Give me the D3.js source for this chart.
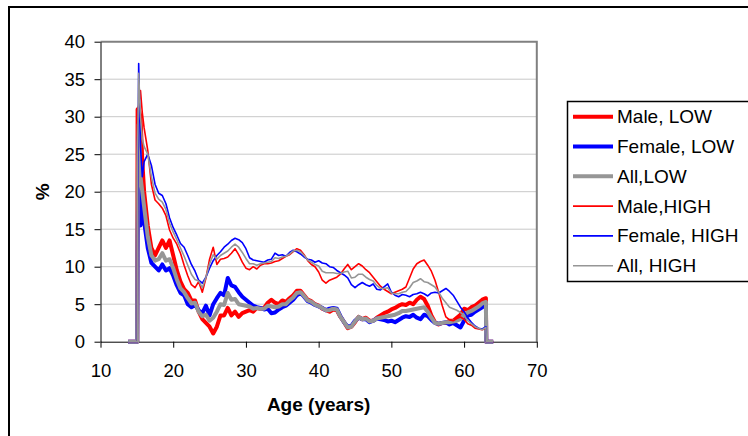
<!DOCTYPE html>
<html>
<head>
<meta charset="utf-8">
<script src="https://cdn.jsdelivr.net/npm/d3@7"></script>
<style>
body{margin:0;background:#fff;}
svg text{font-family:Arial,"Liberation Sans",sans-serif;}
</style>
</head>
<body>
<svg id="graphique" width="748" height="436"></svg>
<script>

// ages (x) : zero before 15 and after 63, then step of half a year
var ages = [13.8, 15.05, 15.1, 15.25, 15.5, 15.75,
	16, 16.5, 17, 17.5, 18, 18.5, 19, 19.5, 20, 20.5,
	21, 21.5, 22, 22.5, 23, 23.5, 24, 24.5, 25, 25.5,
	26, 26.5, 27, 27.5, 28, 28.5, 29, 29.5, 30, 30.5,
	31, 31.5, 32, 32.5, 33, 33.5, 34, 34.5, 35, 35.5,
	36, 36.5, 37, 37.5, 38, 38.5, 39, 39.5, 40, 40.5,
	41, 41.5, 42, 42.5, 43, 43.5, 44, 44.5, 45, 45.5,
	46, 46.5, 47, 47.5, 48, 48.5, 49, 49.5, 50, 50.5,
	51, 51.5, 52, 52.5, 53, 53.5, 54, 54.5, 55, 55.5,
	56, 56.5, 57, 57.5, 58, 58.5, 59, 59.5, 60, 60.5,
	61, 61.5, 62, 62.5, 63, 63.05, 64];

var maleLow = [0, 0, 31, 31, 30, 24,
	20, 15.5, 12.5, 11.5, 12.5, 13.5, 12.5, 13.5, 11.5, 9.5,
	8, 7, 6.5, 5.5, 5.5, 4, 3, 2.5, 2, 1.1,
	2, 3.5, 3.5, 4.5, 3.5, 4, 3.3, 3.8, 4, 4.2,
	4, 4.5, 4.4, 4.5, 5.2, 5.6, 5.2, 5, 5.5, 5.3,
	5.8, 6.2, 6.8, 6.8, 6.2, 5.6, 5.4, 5, 4.8, 4.4,
	4.2, 4, 4.3, 4.2, 3.3, 2.6, 1.8, 2, 2.6, 3.3,
	3, 3.2, 2.8, 2.8, 3.2, 3.5, 3.8, 4, 4.3, 4.5,
	4.8, 5, 4.9, 5.2, 5, 5.6, 6, 5.7, 4.8, 3.5,
	2.6, 2.3, 2.5, 2.5, 2.8, 2.8, 3.2, 3.6, 4.4, 4.2,
	4.6, 4.8, 5.2, 5.6, 5.8, 0, 0];

var femaleLow = [0, 0, 12, 27.3, 15.5, 19,
	16, 12.5, 10.5, 10, 9.5, 10.3, 9.5, 9.8, 8.8, 7.5,
	6.5, 6.2, 5, 4.6, 4.9, 4.2, 3.8, 4.8, 3.5, 5,
	5.8, 6.5, 6.2, 8.5, 7.5, 7.3, 6.6, 6, 5.6, 5.2,
	4.8, 4.6, 4.5, 4.3, 4.4, 3.8, 3.9, 4.3, 4.6, 4.8,
	5.2, 5.6, 6.2, 6.5, 6, 5.4, 5.2, 4.9, 4.7, 4.5,
	4.2, 4.4, 4.5, 4.4, 3.4, 2.6, 2, 2.1, 2.8, 3.2,
	3, 3, 2.6, 2.8, 3.1, 3, 2.9, 2.7, 2.8, 2.6,
	2.9, 3.2, 3.4, 3.3, 3.6, 3.2, 3, 3.6, 3.4, 2.9,
	2.5, 2.4, 2.5, 2.6, 2.3, 2.5, 2.2, 1.9, 2.8, 3.5,
	3.6, 4, 4.3, 4.6, 4.8, 0, 0];

var allLow = [0, 0, 20, 29, 22, 20,
	18, 14, 11.5, 10.8, 11, 11.8, 10.8, 11, 9.8, 8.3,
	7.1, 6.6, 5.8, 5.1, 5.2, 4, 3.4, 3.6, 2.8, 3.2,
	4, 5, 4.9, 6.5, 5.6, 5.7, 5, 4.9, 4.8, 4.7,
	4.4, 4.5, 4.4, 4.4, 4.8, 4.7, 4.6, 4.7, 5, 5,
	5.5, 5.9, 6.5, 6.6, 6.1, 5.5, 5.3, 4.95, 4.75, 4.45,
	4.2, 4.2, 4.4, 4.3, 3.3, 2.6, 1.9, 2, 2.7, 3.3,
	3, 3.1, 2.7, 2.8, 3.1, 3.2, 3.3, 3.4, 3.5, 3.6,
	3.8, 4.1, 4.1, 4.2, 4.3, 4.4, 4.5, 4.6, 4, 3.2,
	2.5, 2.4, 2.5, 2.6, 2.6, 2.7, 2.8, 3, 3.6, 3.9,
	4.1, 4.4, 4.7, 5.1, 5.3, 0, 0];

var maleHigh = [0, 0, 31, 31.5, 33.5, 30.5,
	28.5, 25.5, 21, 18.9, 18.4, 17.8, 16.8, 14.9, 13.8, 13,
	11.8, 10.2, 8.8, 7.6, 7.2, 8, 6.6, 8.5, 11, 12.6,
	10.3, 11, 11.1, 11.3, 11.8, 12.4, 11.6, 10.6, 9.8, 9.6,
	10, 9.7, 10.2, 10.4, 10.4, 10.5, 10.7, 10.8, 11.1, 11.4,
	11.6, 12, 12.4, 12.2, 11.6, 10.8, 10.3, 10, 9.3, 8.2,
	7.8, 8.2, 8.4, 8.6, 9, 9.7, 10.3, 9.6, 10, 10.4,
	10.1, 9.6, 9.2, 8.6, 8, 7.4, 7, 6.7, 6.4, 6.6,
	6.8, 7, 7.3, 8.5, 9.7, 10.4, 10.7, 10.9, 10.2, 9.4,
	8.2, 6.6, 4.8, 3.3, 2.9, 2.8, 3.1, 3.3, 3, 2.4,
	2.2, 1.8, 1.7, 1.6, 1.8, 0, 0];

var femaleHigh = [0, 0, 15, 37.1, 26, 22,
	24, 25, 23.5, 21, 19.8, 19.5, 18.4, 16.5, 15.2, 14.2,
	13.1, 12.6, 11.5, 10.3, 9.4, 8.2, 7.8, 8.6, 9.8, 10.8,
	11.5, 12, 12.6, 13, 13.5, 13.8, 13.6, 13.2, 12.4, 11.2,
	10.9, 10.8, 10.7, 10.6, 10.9, 11, 11.8, 11.5, 11.6, 11.4,
	11.9, 12.2, 12, 11.7, 11.3, 11, 10.9, 10.6, 10.8, 10.5,
	10.4, 10, 9.9, 9.5, 9.2, 8.9, 8.5, 7.6, 7.2, 7.6,
	7.9, 7.6, 7.4, 7.7, 7, 6.9, 7.3, 7.7, 6.6, 6.2,
	6, 6.3, 6.2, 6, 6.3, 6.4, 6.6, 6.4, 6.1, 6.5,
	6.6, 6.5, 6.8, 7.1, 6.7, 6.2, 5.4, 4.6, 4, 3.2,
	2.6, 2.1, 1.8, 1.7, 2, 0, 0];

var allHigh = [0, 0, 25, 35.8, 30, 27,
	26, 25, 22, 19.8, 19, 18.6, 17.6, 15.8, 14.6, 13.6,
	12.5, 11.4, 10.2, 9, 8.3, 8.1, 7.2, 8.6, 10.4, 11.6,
	11, 11.5, 11.8, 12.1, 12.6, 13, 12.6, 11.9, 11.1, 10.4,
	10.4, 10.2, 10.4, 10.5, 10.6, 10.7, 11.2, 11.1, 11.3, 11.4,
	11.7, 12.1, 12.2, 12, 11.5, 10.9, 10.6, 10.3, 10.1, 9.4,
	9.2, 9.2, 9.2, 9.1, 9.1, 9.3, 9.4, 8.5, 8.6, 9,
	9, 8.6, 8.3, 8.1, 7.5, 7.1, 7.1, 7.2, 6.5, 6.4,
	6.4, 6.6, 6.7, 7.2, 7.9, 8.1, 8.4, 8, 7.9, 7.6,
	7.3, 6.6, 5.8, 5.2, 4.6, 4.4, 4.2, 3.9, 3.5, 2.8,
	2.4, 2, 1.8, 1.6, 1.9, 0, 0];

var xTicks = [10, 20, 30, 40, 50, 60, 70];
var yTicks = [0, 5, 10, 15, 20, 25, 30, 35, 40];
var nomsSeries = ["Male, LOW", "Female, LOW", "All,LOW", "Male,HIGH", "Female, HIGH", "All, HIGH"];

function construireGraphique(){

	var graphique = d3.select("#graphique");
	var LEFT = 100.5, RIGHT = 536.8, TOP = 41.7, BOTTOM = 341.7;

	var xScale = d3.scaleLinear().domain([10, 70]).range([LEFT, RIGHT]);
	var yScale = d3.scaleLinear().domain([0, 40]).range([BOTTOM, TOP]);

	// cadre exterieur du graphique
	graphique.append("rect")
		.attr("x", 9).attr("y", 7)
		.attr("width", 800).attr("height", 500)
		.attr("fill", "none")
		.attr("stroke", "#000")
		.attr("stroke-width", 2);

	// lignes horizontales
	graphique.selectAll(".grille")
		.data(yTicks.filter(function(d){ return d > 0 && d < 40; }))
		.enter().append("line")
		.attr("x1", xScale(10)).attr("x2", xScale(70))
		.attr("y1", function(d){ return yScale(d); })
		.attr("y2", function(d){ return yScale(d); })
		.attr("stroke", "#c8c8c8")
		.attr("stroke-width", 1);

	// bord haut et droit de la zone de trace
	graphique.append("path")
		.attr("d", "M" + xScale(10) + "," + yScale(40) + "H" + xScale(70) + "V" + yScale(0))
		.attr("fill", "none")
		.attr("stroke", "#808080")
		.attr("stroke-width", 2);

	//// axes
	var xAxis = d3.axisBottom(xScale).tickValues(xTicks).tickSize(6).tickSizeOuter(0).tickPadding(16);
	var yAxis = d3.axisLeft(yScale).tickValues(yTicks).tickSize(6).tickSizeOuter(0).tickPadding(9.5);

	var gx = graphique.append("g")
		.attr("transform", "translate(0," + yScale(0) + ")")
		.call(xAxis);
	var gy = graphique.append("g")
		.attr("transform", "translate(" + xScale(10) + ",0)")
		.call(yAxis);

	[gx, gy].forEach(function(g){
		g.selectAll("text").style("font-size", "18.5px").attr("fill", "#000");
		g.selectAll("line, path").attr("stroke", "#000");
	});

	//////////// courbes
	var series = [
		{ nom: nomsSeries[0], valeurs: maleLow,    couleur: "#ff0000", epaisseur: 4 },
		{ nom: nomsSeries[1], valeurs: femaleLow,  couleur: "#0000ff", epaisseur: 4 },
		{ nom: nomsSeries[2], valeurs: allLow,     couleur: "#969696", epaisseur: 4 },
		{ nom: nomsSeries[3], valeurs: maleHigh,   couleur: "#ff0000", epaisseur: 1.6 },
		{ nom: nomsSeries[4], valeurs: femaleHigh, couleur: "#0000ff", epaisseur: 1.6 },
		{ nom: nomsSeries[5], valeurs: allHigh,    couleur: "#969696", epaisseur: 1.6 }
	];

	var line = d3.line()
		.x(function(d, i){ return xScale(ages[i]); })
		.y(function(d){ return yScale(d); });

	series.forEach(function(s){
		graphique.append("path")
			.attr("d", line(s.valeurs))
			.attr("fill", "none")
			.attr("stroke", s.couleur)
			.attr("stroke-width", s.epaisseur)
			.attr("stroke-linejoin", "round");
	});

	// titres des axes
	graphique.append("text")
		.attr("x", (LEFT + RIGHT) / 2).attr("y", 411)
		.attr("text-anchor", "middle")
		.style("font-size", "19px").style("font-weight", "bold")
		.text("Age (years)");

	graphique.append("text")
		.attr("transform", "translate(48.5," + ((TOP + BOTTOM) / 2) + ") rotate(-90)")
		.attr("text-anchor", "middle")
		.style("font-size", "19px").style("font-weight", "bold")
		.text("%");

	//////////// legende
	graphique.append("rect")
		.attr("x", 567.5).attr("y", 101.5)
		.attr("width", 200).attr("height", 180)
		.attr("fill", "#fff")
		.attr("stroke", "#000")
		.attr("stroke-width", 1.5);

	var legende = graphique.selectAll(".legende")
		.data(series)
		.enter().append("g")
		.attr("transform", function(d, i){ return "translate(0," + (116.7 + i * 29.8) + ")"; });

	legende.append("line")
		.attr("x1", 573).attr("x2", 613)
		.attr("stroke", function(d){ return d.couleur; })
		.attr("stroke-width", function(d){ return d.epaisseur; });

	legende.append("text")
		.attr("x", 617).attr("y", 6.5)
		.style("font-size", "19px")
		.text(function(d){ return d.nom; });
}

construireGraphique();
</script>
</body>
</html>
